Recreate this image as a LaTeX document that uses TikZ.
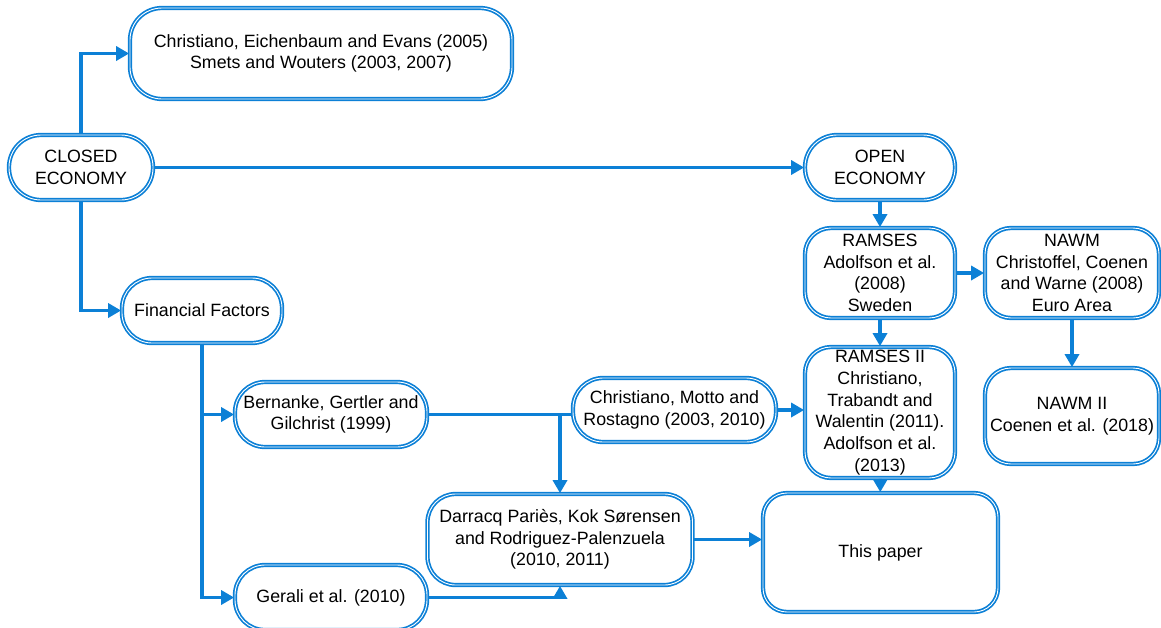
\documentclass[tikz,border=0pt]{standalone}
\usepackage{fontspec}
\setmainfont{Liberation Sans}
\usetikzlibrary{arrows.meta}
\definecolor{flowBlue}{RGB}{12,128,214}
\newcommand*{\boxLine}{1.7pt}
\newcommand*{\wireLine}{3.4pt}

\begin{document}
\begin{tikzpicture}[x=1pt,y=-1pt,
	box/.style={draw=flowBlue,double=white,double distance=.9pt,line width=\boxLine,align=center,inner sep=0pt,font=\fontsize{17.8}{21.7}\selectfont},
	wire/.style={draw=flowBlue,line width=\wireLine},
	arr/.style={wire,-{Triangle[length=13pt,width=14pt]}}]
	\useasboundingbox (0,0) rectangle (1161,627);
	
	\node[box,rounded corners=32pt,minimum width=382pt,minimum height=91pt] (cee) at (321,53.5) {Christiano, Eichenbaum and Evans (2005)\\Smets and Wouters (2003, 2007)};
	\node[box,rounded corners=32pt,minimum width=144pt,minimum height=65pt] (closed) at (81,167.5) {CLOSED\\ECONOMY};
	\node[box,rounded corners=30pt,minimum width=160pt,minimum height=65pt] (fin) at (202,310.5) {Financial Factors};
	\node[box,rounded corners=30pt,minimum width=192pt,minimum height=65pt] (bgg) at (331,414.5) {Bernanke, Gertler and\\Gilchrist (1999)};
	\node[box,rounded corners=30pt,minimum width=192pt,minimum height=65pt] (gerali) at (331,597.5) {Gerali et al. (2010)};
	\node[box,rounded corners=30pt,minimum width=203pt,minimum height=64pt] (cmr) at (674.5,410) {Christiano, Motto and\\Rostagno (2003, 2010)};
	\node[box,rounded corners=28pt,minimum width=265pt,minimum height=91pt] (dkr) at (560,539.5) {Darracq Pariès, Kok Sørensen\\and Rodriguez-Palenzuela\\(2010, 2011)};
	
	\node[box,rounded corners=32pt,minimum width=150pt,minimum height=65pt] (open) at (880,167.5) {OPEN\\ECONOMY};
	\node[box,rounded corners=26pt,minimum width=150pt,minimum height=90pt] (ramses) at (880,273) {RAMSES\\Adolfson et al.\\(2008)\\Sweden};
	\node[box,rounded corners=26pt,minimum width=174pt,minimum height=90pt] (nawm) at (1072,273) {NAWM\\Christoffel, Coenen\\and Warne (2008)\\Euro Area};
	\node[box,rounded corners=26pt,minimum width=150pt,minimum height=131pt] (ramsesII) at (880,412.5) {RAMSES II\\Christiano,\\Trabandt and\\Walentin (2011).\\Adolfson et al.\\(2013)};
	\node[box,rounded corners=26pt,minimum width=174pt,minimum height=96pt] (nawmII) at (1072,416) {NAWM II\\Coenen et al. (2018)};
	\node[box,rounded corners=24pt,minimum width=235pt,minimum height=119pt] (paper) at (880.5,552.5) {This paper};
	
	\draw[arr] (closed.north) |- (cee.west);
	\draw[arr] (closed) -- (open);
	\draw[arr] (closed.south) |- (fin.west);
	\draw[arr] (fin.south) |- (bgg.west);
	\draw[arr] (fin.south) |- (gerali.west);
	\draw[wire] (bgg.east) -- (bgg.east -| cmr.west);
	\draw[arr] (bgg.east -| dkr.north) -- (dkr.north);
	\draw[arr] (gerali.east) -| (dkr.south);
	\draw[arr] (dkr.east) -- (dkr.east -| paper.west);
	\draw[arr] (cmr.east) -- (cmr.east -| ramsesII.west);
	\draw[arr] (open) -- (ramses);
	\draw[arr] (ramses) -- (nawm);
	\draw[arr] (ramses) -- (ramsesII);
	\draw[arr] (nawm) -- (nawmII);
	\draw[arr] (ramsesII) -- (paper);
\end{tikzpicture}
\end{document}
